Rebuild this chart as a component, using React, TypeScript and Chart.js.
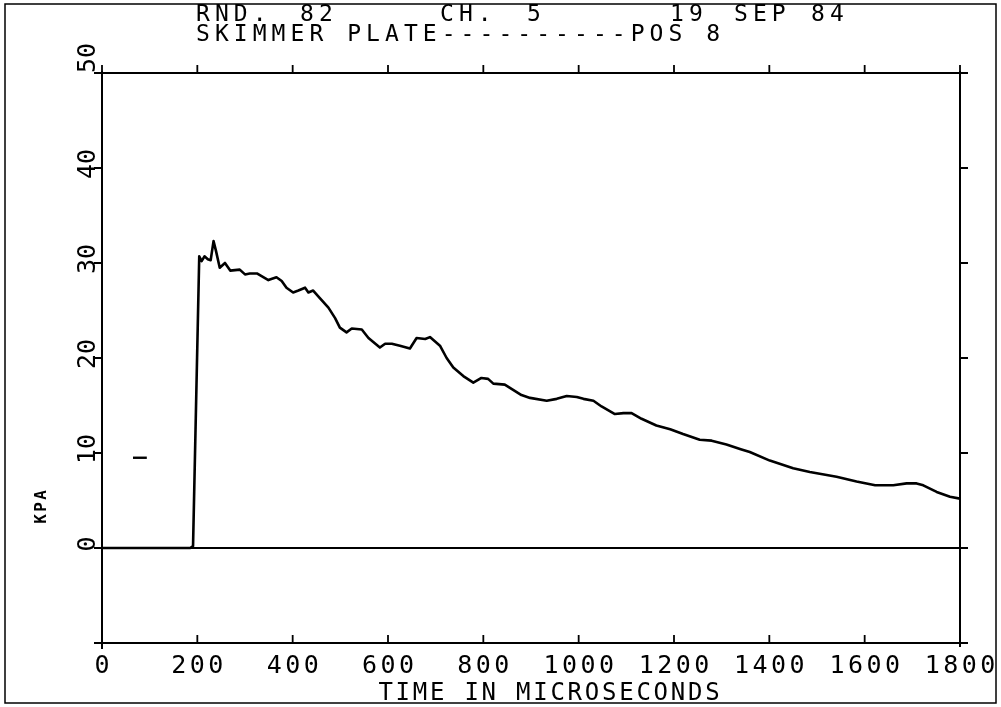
import { useEffect, useRef } from "react";
import { Chart, registerables } from "chart.js";

Chart.register(...registerables);

// Time (microseconds) and pressure (kPa)
const timeUs = [0, 185, 191, 204, 209, 215, 222, 228, 234, 239, 247, 258, 269, 289, 300, 310, 325, 349, 366, 377, 387, 401, 412, 426, 433, 443, 457, 475, 489, 499, 513, 524, 545, 559, 583, 594, 608, 625, 646, 660, 678, 688, 709, 723, 737, 758, 779, 796, 810, 821, 845, 880, 898, 933, 954, 975, 996, 1010, 1031, 1048, 1076, 1094, 1111, 1132, 1163, 1192, 1219, 1254, 1279, 1310, 1340, 1359, 1401, 1450, 1485, 1541, 1583, 1622, 1660, 1688, 1709, 1723, 1751, 1779, 1800];
const pressureKpa = [0, 0, 0.2, 30.7, 30.2, 30.7, 30.4, 30.3, 32.3, 31.3, 29.5, 30.0, 29.2, 29.3, 28.8, 28.9, 28.9, 28.2, 28.5, 28.1, 27.4, 26.9, 27.1, 27.4, 26.9, 27.1, 26.3, 25.3, 24.2, 23.2, 22.7, 23.1, 23.0, 22.1, 21.1, 21.5, 21.5, 21.3, 21.0, 22.1, 22.0, 22.2, 21.3, 20.0, 19.0, 18.1, 17.4, 17.9, 17.8, 17.3, 17.2, 16.1, 15.8, 15.5, 15.7, 16.0, 15.9, 15.7, 15.5, 14.9, 14.1, 14.2, 14.2, 13.6, 12.9, 12.5, 12.0, 11.4, 11.3, 10.9, 10.4, 10.1, 9.2, 8.4, 8.0, 7.5, 7.0, 6.6, 6.6, 6.8, 6.8, 6.6, 5.9, 5.4, 5.2];

// Small pre-trigger mark
const markTimeUs = [65, 94];
const markKpa = [9.5, 9.5];

const xTicks = [0, 200, 400, 600, 800, 1000, 1200, 1400, 1600, 1800];
const yTicks = [-10, 0, 10, 20, 30, 40, 50];

const titleTokens1 = ["RND.", "82", "CH.", "5", "19", "SEP", "84"];
const titleLine2 = "SKIMMER PLATE----------POS 8";
const xTitle = "TIME IN MICROSECONDS";
const yTitle = "KPA";

const FONT = '"DejaVu Sans Mono", "Liberation Mono", monospace';

function drawSpaced(ctx: CanvasRenderingContext2D, text: string, x: number, y: number, pitch: number, align: "left" | "center") {
  ctx.textAlign = "left";
  const cw = ctx.measureText("M").width;
  const total = (text.length - 1) * pitch + cw;
  const x0 = align === "center" ? x - total / 2 : x;
  for (let i = 0; i < text.length; i++) {
    ctx.fillText(text[i], x0 + i * pitch, y);
  }
}

const framePlugin = {
  id: "plotterFrame",
  afterDraw(chart: any) {
    const ctx: CanvasRenderingContext2D = chart.ctx;
    const { left, right, top, bottom } = chart.chartArea;
    const xs = chart.scales.x;
    const ys = chart.scales.y;
    ctx.save();
    ctx.strokeStyle = "#000";
    ctx.fillStyle = "#000";

    // outer border
    ctx.lineWidth = 1.5;
    ctx.strokeRect(5, 4, chart.width - 10, chart.height - 8);

    // plot box
    ctx.lineWidth = 2;
    ctx.beginPath();
    ctx.moveTo(left, top - 2);
    ctx.lineTo(left, bottom + 6);
    ctx.moveTo(right, top - 2);
    ctx.lineTo(right, bottom + 4);
    ctx.moveTo(left, top);
    ctx.lineTo(right + 2, top);
    ctx.moveTo(left, bottom);
    ctx.lineTo(right + 2, bottom);
    // zero line
    const y0 = ys.getPixelForValue(0);
    ctx.moveTo(left, y0);
    ctx.lineTo(right, y0);
    ctx.stroke();

    // ticks
    ctx.lineWidth = 1.8;
    ctx.beginPath();
    const tl = 8;
    for (const v of xTicks) {
      const px = xs.getPixelForValue(v);
      ctx.moveTo(px, top);
      ctx.lineTo(px, top - tl);
      ctx.moveTo(px, bottom);
      ctx.lineTo(px, bottom - tl);
    }
    for (const v of yTicks) {
      const py = ys.getPixelForValue(v);
      ctx.moveTo(left, py);
      ctx.lineTo(left - tl, py);
      ctx.moveTo(right, py);
      ctx.lineTo(right + tl, py);
    }
    ctx.stroke();

    // x tick labels
    ctx.font = "25px " + FONT;
    ctx.textBaseline = "alphabetic";
    for (const v of xTicks) {
      const px = xs.getPixelForValue(v);
      drawSpaced(ctx, String(v), px, 673, 18.5, "center");
    }
    // x title
    ctx.font = "24px " + FONT;
    drawSpaced(ctx, xTitle, 549, 700, 17.2, "center");

    // y tick labels (rotated)
    ctx.font = "25px " + FONT;
    for (const v of yTicks) {
      if (v < 0) continue;
      const py = ys.getPixelForValue(v);
      ctx.save();
      ctx.translate(95, py);
      ctx.rotate(-Math.PI / 2);
      const shift = v === yTicks[yTicks.length - 1] ? 15 : 4;
      drawSpaced(ctx, String(v), shift, 0, 15, "center");
      ctx.restore();
    }

    // y title
    ctx.save();
    ctx.font = "bold 16px " + FONT;
    ctx.translate(46, 507);
    ctx.rotate(-Math.PI / 2);
    drawSpaced(ctx, yTitle, 0, 0, 12, "center");
    ctx.restore();

    // title
    ctx.font = "23px " + FONT;
    const tokenX = [196, 300, 440, 527, 670, 734, 811];
    titleTokens1.forEach((t, i) => drawSpaced(ctx, t, tokenX[i], 21, 18.9, "left"));
    drawSpaced(ctx, titleLine2, 196, 41, 18.9, "left");

    ctx.restore();
  },
};

export default function App() {
  const ref = useRef<HTMLCanvasElement | null>(null);
  useEffect(() => {
    document.body.style.margin = "0";
    const canvas = ref.current!;
    const chart = new Chart(canvas, {
      type: "line",
      data: {
        datasets: [
          {
            data: timeUs.map((t, i) => ({ x: t, y: pressureKpa[i] })),
            borderColor: "#000",
            borderWidth: 2.6,
            pointRadius: 0,
            tension: 0,
            borderJoinStyle: "round",
          },
          {
            data: markTimeUs.map((t, i) => ({ x: t, y: markKpa[i] })),
            borderColor: "#000",
            borderWidth: 2.4,
            pointRadius: 0,
            tension: 0,
          },
        ],
      },
      options: {
        responsive: false,
        animation: false,
        events: [],
        layout: { padding: { left: 102, right: 41, top: 73, bottom: 64 } },
        plugins: { legend: { display: false }, tooltip: { enabled: false }, title: { display: false } },
        scales: {
          x: { type: "linear", min: 0, max: 1800, display: false },
          y: { type: "linear", min: -10, max: 50, display: false },
        },
      },
      plugins: [framePlugin],
    });
    return () => chart.destroy();
  }, []);
  return (
    <div style={{ position: "absolute", left: 0, top: 0, width: 1001, height: 707, background: "#fff" }}>
      <canvas ref={ref} width={1001} height={707} style={{ display: "block" }} />
    </div>
  );
}
